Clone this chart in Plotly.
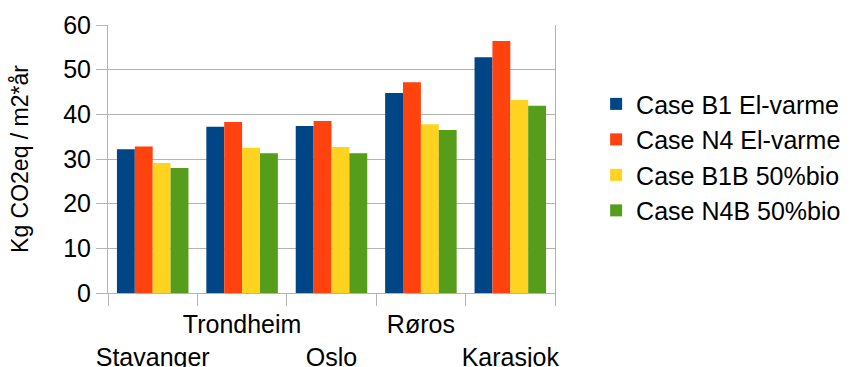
import plotly.graph_objects as go

# Emission intensity per city and heating case
cities = ["Stavanger", "Trondheim", "Oslo", "Røros", "Karasjok"]
city_labels = ["<br>Stavanger", "Trondheim", "<br>Oslo", "Røros", "<br>Karasjok"]

case_b1_el = [32.2, 37.2, 37.4, 44.8, 52.8]
case_n4_el = [32.8, 38.3, 38.5, 47.2, 56.4]
case_b1b_bio = [29.1, 32.5, 32.7, 37.8, 43.2]
case_n4b_bio = [28.0, 31.3, 31.3, 36.5, 41.9]

series_names = ["Case B1 El-varme", "Case N4 El-varme", "Case B1B 50%bio", "Case N4B 50%bio"]
series_values = [case_b1_el, case_n4_el, case_b1b_bio, case_n4b_bio]
series_colors = ["#004586", "#ff420e", "#ffd320", "#579d1c"]

FONT = "Liberation Sans, Arial, sans-serif"
GRID = "#b3b3b3"
FS = 25

fig = go.Figure()
for i, (name, vals, col) in enumerate(zip(series_names, series_values, series_colors)):
    fig.add_trace(go.Bar(
        x=cities, y=vals, name=name,
        marker=dict(color=col, line=dict(width=0)),
        legendgroup=f"g{i}",
    ))

fig.update_layout(
    width=854, height=367,
    margin=dict(l=108, r=299, t=25, b=74, autoexpand=False),
    paper_bgcolor="white", plot_bgcolor="white",
    barmode="group", bargap=0.2, bargroupgap=0,
    font=dict(family=FONT, size=FS, color="black"),
    showlegend=True,
    legend=dict(
        x=1.092, y=0.507, xanchor="left", yanchor="middle",
        font=dict(family=FONT, size=FS, color="black"),
        itemwidth=30, tracegroupgap=0,
        bgcolor="rgba(0,0,0,0)",
    ),
)

fig.update_xaxes(
    type="category",
    tickmode="array", tickvals=cities, ticktext=city_labels,
    tickangle=0, automargin=False, ticklabelstandoff=9,
    tickson="boundaries", ticks="outside", ticklen=12, tickcolor=GRID, tickwidth=1,
    showline=True, linecolor=GRID, linewidth=1,
    showgrid=False,
    tickfont=dict(family=FONT, size=FS, color="black"),
)

fig.update_yaxes(
    range=[0, 60], tickvals=[0, 10, 20, 30, 40, 50, 60],
    automargin=False,
    ticks="outside", ticklen=11, tickcolor=GRID, tickwidth=1,
    showline=True, mirror=True, linecolor=GRID, linewidth=1,
    showgrid=True, gridcolor=GRID, gridwidth=1,
    zeroline=False,
    tickfont=dict(family=FONT, size=FS, color="black"),
    title=dict(text="Kg CO2eq / m2*år", font=dict(family=FONT, size=23, color="black"), standoff=28),
)

fig.write_html("out.html")
